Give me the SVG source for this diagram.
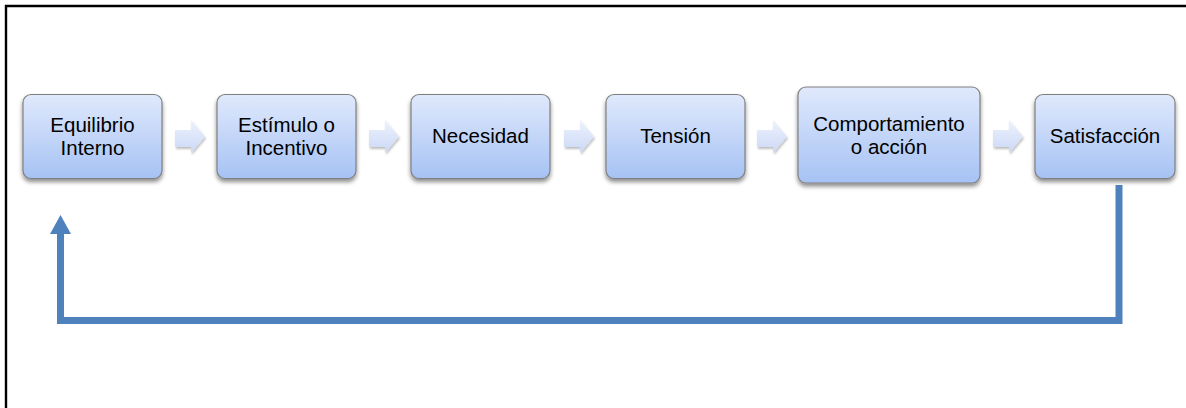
<svg xmlns="http://www.w3.org/2000/svg" width="1186" height="408" viewBox="0 0 1186 408">
<defs>
<linearGradient id="boxg" x1="0" y1="0" x2="0" y2="1">
<stop offset="0" stop-color="#e0e9fc"/>
<stop offset="1" stop-color="#a6c2f4"/>
</linearGradient>
<linearGradient id="arrg" x1="0" y1="0" x2="0" y2="1">
<stop offset="0" stop-color="#edf2fd"/>
<stop offset="1" stop-color="#cbd8f5"/>
</linearGradient>
<filter id="sh" x="-10%" y="-10%" width="120%" height="130%">
<feDropShadow dx="0" dy="3" stdDeviation="2" flood-color="#000" flood-opacity="0.45"/>
</filter>
<filter id="ash" x="-20%" y="-20%" width="150%" height="150%">
<feDropShadow dx="1" dy="2" stdDeviation="1.2" flood-color="#000" flood-opacity="0.25"/>
</filter>
<polygon id="sarr" points="-15,-6.5 1,-6.5 1,-16.5 15,0 1,16.5 1,10.5 -15,10.5"/>
</defs>
<style>
.box{fill:url(#boxg);stroke:#808080;stroke-width:1.2;filter:url(#sh)}
.lbl{font-family:"Liberation Sans",Arial,sans-serif;font-size:20.5px;fill:#000;text-anchor:middle}
.sa{fill:url(#arrg);filter:url(#ash)}
.fb{fill:none;stroke:#4f81bd;stroke-width:7}
</style>
<rect x="0" y="0" width="1186" height="408" fill="#fff"/>
<g id="frame" stroke="#000" stroke-width="2.4">
<line x1="5" y1="6" x2="1186" y2="6"/>
<line x1="6" y1="5" x2="6" y2="408"/>
</g>
<g id="connectors">
<use href="#sarr" class="sa" transform="translate(190,136.5)"/>
<use href="#sarr" class="sa" transform="translate(384,136.5)"/>
<use href="#sarr" class="sa" transform="translate(579,136.5)"/>
<use href="#sarr" class="sa" transform="translate(772,136.5)"/>
<use href="#sarr" class="sa" transform="translate(1008,136.5)"/>
<polyline class="fb" points="1119,185 1119,320.5 60.5,320.5 60.5,232"/>
<polygon points="50,234 60.5,215 71,234" fill="#4f81bd"/>
</g>
<g id="n1"><rect class="box" x="23" y="94.5" width="139" height="84" rx="8"/>
<text class="lbl" x="92.5" y="132">Equilibrio</text><text class="lbl" x="92.5" y="155">Interno</text></g>
<g id="n2"><rect class="box" x="217" y="94.5" width="139" height="84" rx="8"/>
<text class="lbl" x="286.5" y="132">Estímulo o</text><text class="lbl" x="286.5" y="155">Incentivo</text></g>
<g id="n3"><rect class="box" x="411" y="94.5" width="139" height="84" rx="8"/>
<text class="lbl" x="480.5" y="143">Necesidad</text></g>
<g id="n4"><rect class="box" x="606" y="94.5" width="139" height="84" rx="8"/>
<text class="lbl" x="675.5" y="143">Tensión</text></g>
<g id="n5"><rect class="box" x="798" y="87" width="182" height="96" rx="8"/>
<text class="lbl" x="889" y="131">Comportamiento</text><text class="lbl" x="889" y="154">o acción</text></g>
<g id="n6"><rect class="box" x="1035" y="94.5" width="140" height="84" rx="8"/>
<text class="lbl" x="1105" y="143">Satisfacción</text></g>
</svg>
